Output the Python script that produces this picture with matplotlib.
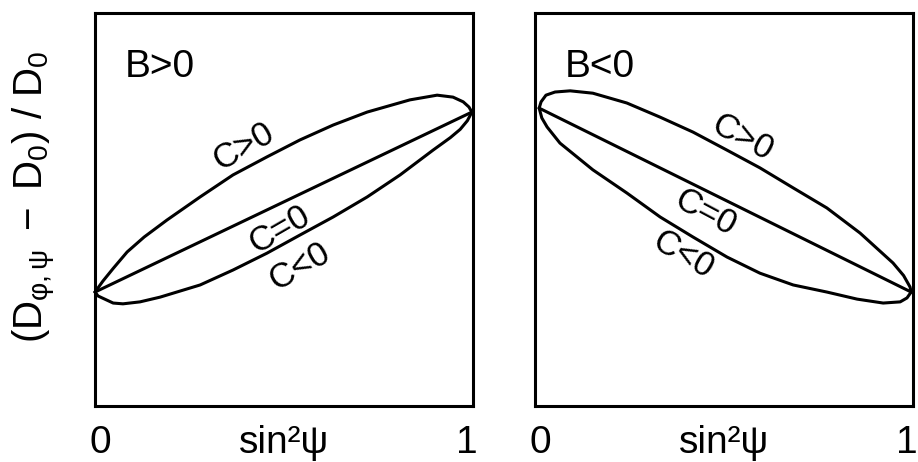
import matplotlib.pyplot as plt
from matplotlib.transforms import ScaledTranslation

FONT = ["Liberation Sans", "DejaVu Sans"]
plt.rcParams.update({
    "font.family": FONT,
    "font.size": 26,
    "mathtext.fontset": "custom",
    "mathtext.rm": "Liberation Sans",
    "mathtext.it": "Liberation Sans",
    "mathtext.bf": "Liberation Sans",
})

# left panel, B>0 (x = sin^2 psi, y = strain, axes 0..1)
left_up_x = [0.0, 0.021, 0.048, 0.085, 0.130, 0.190, 0.278, 0.365, 0.455, 0.542, 0.630, 0.720, 0.833, 0.905, 0.947, 0.974, 0.989, 0.997]
left_up_y = [0.290, 0.318, 0.350, 0.392, 0.430, 0.473, 0.532, 0.588, 0.634, 0.677, 0.715, 0.748, 0.779, 0.791, 0.786, 0.774, 0.761, 0.748]
left_lo_x = [0.0, 0.008, 0.019, 0.048, 0.074, 0.119, 0.172, 0.278, 0.365, 0.455, 0.542, 0.630, 0.720, 0.807, 0.894, 0.940, 0.966, 0.985, 0.997]
left_lo_y = [0.290, 0.280, 0.275, 0.262, 0.260, 0.265, 0.277, 0.308, 0.346, 0.389, 0.435, 0.481, 0.532, 0.588, 0.651, 0.683, 0.704, 0.726, 0.748]
left_mid_x = [0.0, 0.997]
left_mid_y = [0.290, 0.748]

# right panel, B<0
right_up_x = [0.011, 0.016, 0.029, 0.053, 0.093, 0.153, 0.243, 0.331, 0.418, 0.508, 0.595, 0.683, 0.772, 0.860, 0.947, 0.975, 0.992, 0.995]
right_up_y = [0.758, 0.774, 0.791, 0.799, 0.802, 0.796, 0.771, 0.735, 0.697, 0.651, 0.606, 0.555, 0.504, 0.440, 0.364, 0.332, 0.303, 0.290]
right_lo_x = [0.011, 0.018, 0.032, 0.066, 0.153, 0.243, 0.331, 0.418, 0.508, 0.595, 0.683, 0.772, 0.852, 0.921, 0.966, 0.984, 0.995]
right_lo_y = [0.758, 0.733, 0.710, 0.669, 0.601, 0.542, 0.481, 0.430, 0.379, 0.338, 0.308, 0.290, 0.272, 0.262, 0.265, 0.275, 0.290]
right_mid_x = [0.011, 0.995]
right_mid_y = [0.758, 0.290]

panel_titles = ["B>0", "B<0"]
curve_labels = ["C>0", "C=0", "C<0"]
xtick_labels = ["0", "1"]

fig = plt.figure(figsize=(9.18, 4.62), dpi=100)
ax1 = fig.add_axes([0.1035, 0.1212, 0.4118, 0.8506])
ax2 = fig.add_axes([0.5828, 0.1212, 0.4118, 0.8506])

curves = [
    (ax1, (left_up_x, left_up_y), (left_mid_x, left_mid_y), (left_lo_x, left_lo_y)),
    (ax2, (right_up_x, right_up_y), (right_mid_x, right_mid_y), (right_lo_x, right_lo_y)),
]
shifts = [5, -6]  # px nudge of the "0" and "1" labels
for ax, up, mid, lo in curves:
    for xs, ys in (up, mid, lo):
        ax.plot(xs, ys, color="black", lw=2.2, clip_on=False,
                solid_capstyle="round", solid_joinstyle="round")
    ax.set_xlim(0, 1)
    ax.set_ylim(0, 1)
    ax.set_yticks([])
    ax.set_xticks([0, 1])
    ax.set_xticklabels(xtick_labels)
    ax.tick_params(axis="x", length=0, pad=34, labelsize=28)
    for lbl, dx in zip(ax.get_xticklabels(), shifts):
        lbl.set_va("baseline")
        lbl.set_transform(lbl.get_transform() + ScaledTranslation(dx / 100, 0, fig.dpi_scale_trans))
    for s in ax.spines.values():
        s.set_linewidth(2.2)
    ax.set_xlabel("sin²ψ", fontsize=28)
    ax.xaxis.set_label_coords(0.5, -0.120)
    ax.xaxis.label.set_va("baseline")

ax1.set_ylabel(r"$(D_{φ,ψ}\ -\ D_0)\ /\ D_0$", fontsize=29)
ax1.yaxis.set_label_coords(-0.1376, 0.533)
ax1.yaxis.label.set_va("baseline")

for ax, title in zip((ax1, ax2), panel_titles):
    ax.text(0.079, 0.837, title, transform=ax.transAxes, ha="left", va="baseline", fontsize=28)

left_pos = [(0.392, 0.659, 30), (0.489, 0.448, 30), (0.542, 0.354, 30)]
right_pos = [(0.548, 0.682, -28), (0.450, 0.491, -28), (0.391, 0.384, -30)]
for ax, pos in ((ax1, left_pos), (ax2, right_pos)):
    for lab, (x, y, r) in zip(curve_labels, pos):
        ax.text(x, y, lab, transform=ax.transAxes, ha="center", va="center",
                rotation=r, rotation_mode="anchor", fontsize=25)

fig.savefig("out.png", dpi=100)
